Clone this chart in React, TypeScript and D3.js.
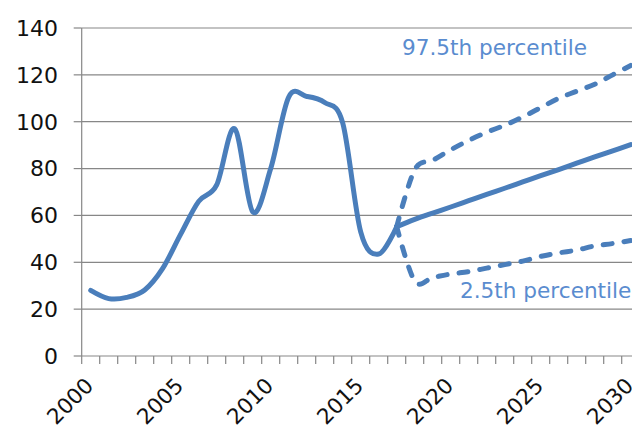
import React from 'react';
import {scaleBand, scaleLinear, line, curveCardinal, range} from 'd3';

// historical series 2000-2017
const histYears = range(2000, 2018);
const histValues = [28, 24.5, 25, 28.2, 37.4, 52, 66, 73, 97, 61.5, 80, 110.5, 110.8, 108.2, 99.5, 53, 43.5, 55.2];

// projection 2017-2030
const projYears = range(2017, 2031);
const central = [55.2, 58.3, 61, 63.6, 66.3, 69, 71.6, 74.3, 77, 79.6, 82.3, 85, 87.6, 90.2];
const upper = [55.2, 79.5, 83.5, 88, 92, 95.5, 98.5, 102, 106, 110, 113, 116, 120, 124];
const lower = [55.2, 32, 33.5, 35, 36, 37.5, 39, 40.5, 42.5, 44, 45.2, 47, 48, 49.3];

const categories = range(2000, 2031);
const xLabels = [2000, 2005, 2010, 2015, 2020, 2025, 2030];
const yTicks = [0, 20, 40, 60, 80, 100, 120, 140];

const W = 632;
const H = 430;
const FONT = '"DejaVu Sans", Verdana, sans-serif';
const BLUE = '#4A7EBB';
const TEXTBLUE = '#5A8CCF';
const GRID = '#878787';

const App = (): JSX.Element => {
    const x = scaleBand<number>().domain(categories).range([81.7, 81.7 + 31 * 18]).padding(0);
    const y = scaleLinear().domain([0, 140]).range([356, 28]);
    const cx = (yr: number) => (x(yr) as number) + x.bandwidth() / 2;

    const mk = line<[number, number]>()
        .x(d => cx(d[0]))
        .y(d => y(d[1]))
        .curve(curveCardinal.tension(0));

    const hist = mk(histYears.map((yr, i) => [yr, histValues[i]]));
    const cen = mk(projYears.map((yr, i) => [yr, central[i]]));
    const up = mk(projYears.map((yr, i) => [yr, upper[i]]));
    const lo = mk(projYears.map((yr, i) => [yr, lower[i]]));

    const x0 = x.range()[0];
    const x1 = W + 10;
    const boundaries = range(2000, 2032).map(yr => x0 + (yr - 2000) * x.bandwidth());

    return (
        <svg width={W} height={H} viewBox={`0 0 ${W} ${H}`}
             style={{position: 'absolute', left: 0, top: 0, background: '#fff'}}
             fontFamily={FONT}>
            {/* gridlines */}
            {yTicks.filter(t => t > 0).map(t => (
                <line key={t} x1={x0} x2={x1} y1={y(t)} y2={y(t)} stroke={GRID} strokeWidth={1.2}/>
            ))}
            {/* y axis */}
            <line x1={x0} x2={x0} y1={y(140)} y2={y(0)} stroke={GRID} strokeWidth={1.2}/>
            {yTicks.map(t => (
                <g key={t}>
                    <line x1={x0 - 8} x2={x0} y1={y(t)} y2={y(t)} stroke={GRID} strokeWidth={1.2}/>
                    <text x={58} y={y(t)} dy="0.36em" textAnchor="end" fontSize={22} fill="#111">{t}</text>
                </g>
            ))}
            {/* x axis */}
            <line x1={x0} x2={x1} y1={y(0)} y2={y(0)} stroke={GRID} strokeWidth={1.2}/>
            {boundaries.map((b, i) => (
                <line key={i} x1={b} x2={b} y1={y(0)} y2={y(0) + 8} stroke={GRID} strokeWidth={1.2}/>
            ))}
            {xLabels.map(yr => (
                <text key={yr} transform={`translate(${cx(yr) + 4},${y(0) + 31}) rotate(-45)`}
                      textAnchor="end" fontSize={21.5} fill="#111">{yr}</text>
            ))}
            {/* series */}
            <path d={up ?? ''} fill="none" stroke={BLUE} strokeWidth={5} strokeDasharray="9,12" strokeLinecap="round"/>
            <path d={lo ?? ''} fill="none" stroke={BLUE} strokeWidth={5} strokeDasharray="9,12" strokeLinecap="round"/>
            <path d={hist ?? ''} fill="none" stroke={BLUE} strokeWidth={5} strokeLinejoin="round" strokeLinecap="round"/>
            <path d={cen ?? ''} fill="none" stroke={BLUE} strokeWidth={5} strokeLinejoin="round" strokeLinecap="round"/>
            {/* annotations */}
            <text x={402} y={55} fontSize={21.6} fill={TEXTBLUE}>97.5th percentile</text>
            <text x={460} y={298} fontSize={21.6} fill={TEXTBLUE}>2.5th percentile</text>
        </svg>
    );
};

export default App;
